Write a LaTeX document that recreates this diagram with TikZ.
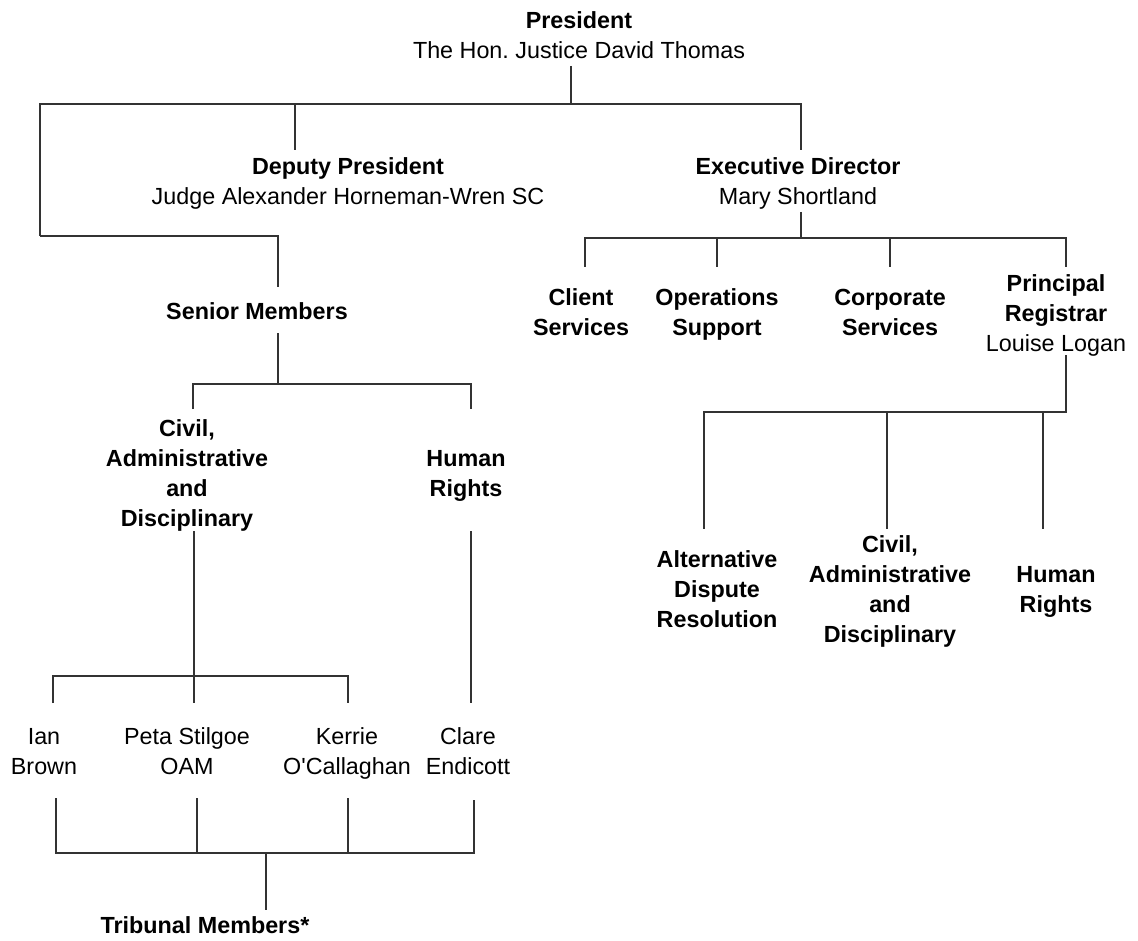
\documentclass[tikz,border=0pt]{standalone}
\usepackage{fontspec}
\setmainfont{Liberation Sans}
\frenchspacing
\begin{document}
\begin{tikzpicture}[x=0.75pt,y=-0.75pt,
  lbl/.style={align=center, inner sep=0pt, text=black, font=\fontsize{17.5}{22.5}\selectfont},
  conn/.style={draw=black!80, line width=1pt}]
\useasboundingbox (0,0) rectangle (1138,941);
% ---------- nodes ----------
\node[lbl] (pres) at (579,37.4) {\strut\textbf{President}\\The Hon.\ Justice David Thomas\strut};
\node[lbl] (dep) at (348,183.4) {\strut\textbf{Deputy President}\\Judge Alexander Horneman-Wren SC\strut};
\node[lbl] (exec) at (798,183.4) {\strut\textbf{Executive Director}\\Mary Shortland\strut};
\node[lbl] (senior) at (257,313.4) {\strut\textbf{Senior Members}\strut};
\node[lbl] (civL) at (187,475) {\strut\textbf{Civil,}\\\textbf{Administrative}\\\textbf{and}\\\textbf{Disciplinary}\strut};
\node[lbl] (hrL) at (466,475) {\strut\textbf{Human}\\\textbf{Rights}\strut};
\node[lbl] (ian) at (44,753.4) {\strut Ian\\Brown\strut};
\node[lbl] (peta) at (187,753.4) {\strut Peta Stilgoe\\OAM\strut};
\node[lbl] (kerrie) at (347,753.4) {\strut Kerrie\\O\textquotesingle Callaghan\strut};
\node[lbl] (clare) at (468,753.4) {\strut Clare\\Endicott\strut};
\node[lbl] (trib) at (205,927.4) {\strut\textbf{Tribunal Members*}\strut};
\node[lbl] (client) at (581,314.4) {\strut\textbf{Client}\\\textbf{Services}\strut};
\node[lbl] (ops) at (717,314.4) {\strut\textbf{Operations}\\\textbf{Support}\strut};
\node[lbl] (corp) at (890,314.4) {\strut\textbf{Corporate}\\\textbf{Services}\strut};
\node[lbl] (preg) at (1056,315.4) {\strut\textbf{Principal}\\\textbf{Registrar}\\Louise Logan\strut};
\node[lbl] (adr) at (717,591) {\strut\textbf{Alternative}\\\textbf{Dispute}\\\textbf{Resolution}\strut};
\node[lbl] (civR) at (890,591) {\strut\textbf{Civil,}\\\textbf{Administrative}\\\textbf{and}\\\textbf{Disciplinary}\strut};
\node[lbl] (hrR) at (1056,591) {\strut\textbf{Human}\\\textbf{Rights}\strut};
% ---------- junction coordinates ----------
\coordinate (p0) at (571,66);
\coordinate (p1) at (571,104);
\coordinate (hL) at (40,104);
\coordinate (hR) at (801,104);
\coordinate (dT) at (295,104);
\coordinate (dB) at (295,150);
\coordinate (eB) at (801,150);
\coordinate (lc) at (40,236);
\coordinate (sTR) at (278,236);
\coordinate (sT) at (278,287);
\coordinate (sB) at (278,333);
\coordinate (sJ) at (278,384);
\coordinate (sL) at (193,384);
\coordinate (sR) at (471,384);
\coordinate (sLB) at (193,409);
\coordinate (sRB) at (471,409);
\coordinate (cT) at (194,531);
\coordinate (cB) at (194,703);
\coordinate (cJ) at (194,676);
\coordinate (cL) at (53,676);
\coordinate (cR) at (348,676);
\coordinate (cLB) at (53,703);
\coordinate (cRB) at (348,703);
\coordinate (hT) at (471,531);
\coordinate (hB) at (471,703);
\coordinate (m1) at (56,798);
\coordinate (m1b) at (56,853);
\coordinate (m2) at (197,798);
\coordinate (m2b) at (197,853);
\coordinate (m3) at (348,798);
\coordinate (m3b) at (348,853);
\coordinate (m4) at (474,800);
\coordinate (m4b) at (474,853);
\coordinate (tJ) at (266,853);
\coordinate (tB) at (266,910);
\coordinate (eT) at (801,212);
\coordinate (eJ) at (801,238);
\coordinate (e1) at (585,238);
\coordinate (e1b) at (585,267);
\coordinate (e2) at (717,238);
\coordinate (e2b) at (717,267);
\coordinate (e3) at (890,238);
\coordinate (e3b) at (890,267);
\coordinate (e4) at (1066,238);
\coordinate (e4b) at (1066,267);
\coordinate (rT) at (1066,355);
\coordinate (rJ) at (1066,412);
\coordinate (r1) at (704,412);
\coordinate (r1b) at (704,529);
\coordinate (r2) at (887,412);
\coordinate (r2b) at (887,529);
\coordinate (r3) at (1043,412);
\coordinate (r3b) at (1043,529);
% ---------- connectors ----------
\draw[conn] (p0) -- (p1);
\draw[conn] (lc) -- (hL) -- (hR) -- (eB);
\draw[conn] (dT) -- (dB);
\draw[conn] (lc) -- (sTR) -- (sT);
\draw[conn] (sB) -- (sJ);
\draw[conn] (sLB) -- (sL) -- (sR) -- (sRB);
\draw[conn] (cT) -- (cB);
\draw[conn] (cLB) -- (cL) -- (cR) -- (cRB);
\draw[conn] (hT) -- (hB);
\draw[conn] (m1) -- (m1b) -- (m4b) -- (m4);
\draw[conn] (m2) -- (m2b);
\draw[conn] (m3) -- (m3b);
\draw[conn] (tJ) -- (tB);
\draw[conn] (eT) -- (eJ);
\draw[conn] (e1b) -- (e1) -- (e4) -- (e4b);
\draw[conn] (e2) -- (e2b);
\draw[conn] (e3) -- (e3b);
\draw[conn] (rT) -- (rJ) -- (r1) -- (r1b);
\draw[conn] (r2) -- (r2b);
\draw[conn] (r3) -- (r3b);
\end{tikzpicture}
\end{document}
